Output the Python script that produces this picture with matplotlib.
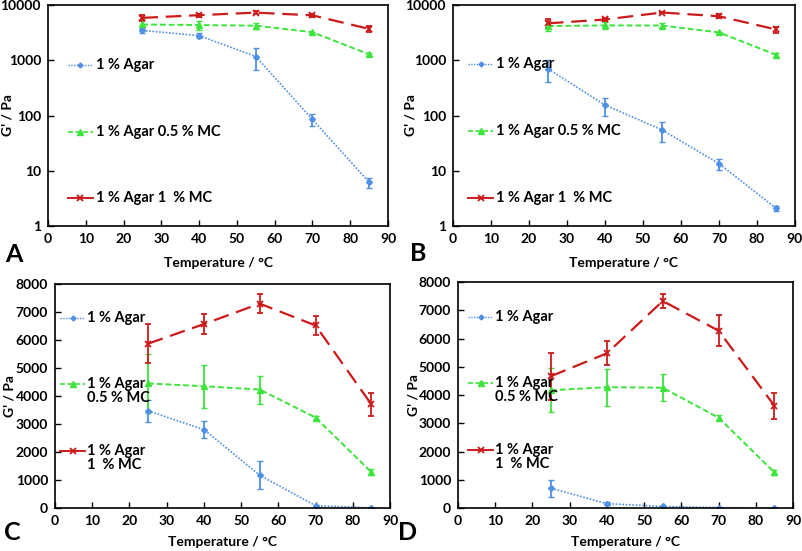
import matplotlib
matplotlib.use("Agg")
import matplotlib.pyplot as plt

plt.rcParams['font.family'] = ['Lato', 'DejaVu Sans']
plt.rcParams['font.weight'] = 'bold'

# temperatures (°C)
temps = [25, 40, 55, 70, 85]

# series labels
labels_wide = ['1 % Agar', '1 % Agar 0.5 % MC', '1 % Agar 1  % MC']
labels_two = [('1 % Agar', None), ('1 % Agar', '0.5 % MC'), ('1 % Agar', '1  % MC')]

# set 1 (panels A and C)
agar_1 = [3470, 2800, 1170, 85, 6.2]
agar_1_err = [400, 300, 500, 20, 1.3]
mc05_1 = [4450, 4350, 4230, 3230, 1280]
mc05_1_err = [1050, 770, 500, 50, 100]
mc1_1 = [5870, 6570, 7300, 6520, 3700]
mc1_1_err = [700, 370, 350, 350, 420]

# set 2 (panels B and D)
agar_2 = [700, 155, 55, 13.5, 2.1]
agar_2_err = [300, 55, 22, 3, 0.2]
mc05_2 = [4170, 4280, 4260, 3200, 1260]
mc05_2_err = [780, 660, 480, 100, 100]
mc1_2 = [4670, 5480, 7330, 6280, 3620]
mc1_2_err = [830, 430, 250, 560, 450]

log_ticks = [1, 10, 100, 1000, 10000]
lin_ticks = list(range(0, 8001, 1000))
x_ticks = list(range(0, 91, 10))

styles = [
    dict(color='#4F8FE6', ls=(0, (1, 1)), leg_ls=(0, (1, 1)), marker='D', ms=3, lw=1.2),
    dict(color='#3CE43C', ls=(0, (3, 1.5)), leg_ls=(0, (3, 1.5)), marker='^', ms=5, lw=1.4),
    dict(color='#CC1A1A', ls=(0, (7, 3.5)), leg_ls='-', marker='x', ms=5, lw=1.6, mew=1.3),
]

fig = plt.figure(figsize=(8.03, 5.51), dpi=100)


def draw_panel(rect, series, errs, log, letter, leg_x, leg_y, two_line, ylab_x, xlab_y, letter_xy):
    ax = fig.add_axes(rect)
    for vals, err, st in zip(series, errs, styles):
        ax.errorbar(temps, vals, yerr=err, color=st['color'], ls=st['ls'], lw=st['lw'],
                    marker=st['marker'], ms=st['ms'], mew=st.get('mew', 1),
                    elinewidth=1.3, capsize=2.5, capthick=1.2)
    ax.set_xlim(0, 90)
    ax.set_xticks(x_ticks)
    if log:
        ax.set_yscale('log')
        ax.set_ylim(1, 10000)
        ax.set_yticks(log_ticks)
        ax.set_yticklabels([str(t) for t in log_ticks])
        ax.minorticks_off()
    else:
        ax.set_ylim(0, 8000)
        ax.set_yticks(lin_ticks)
    ax.tick_params(direction='in', length=4, width=1, labelsize=10, pad=5)
    for s in ax.spines.values():
        s.set_linewidth(1.2)
    # axis titles placed by their centres
    ax.text(0.5, xlab_y, 'Temperature / °C', transform=ax.transAxes, ha='center',
            va='center', fontsize=10, fontweight='bold')
    ax.text(ylab_x, 0.5, "G' / Pa", transform=ax.transAxes, ha='center', va='center',
            rotation=90, fontsize=10, fontweight='bold')

    # hand-placed legend entries
    for i, st in enumerate(styles):
        y = leg_y[i]
        ax.plot([leg_x[0], leg_x[1]], [y, y], transform=ax.transAxes, color=st['color'],
                ls=st['leg_ls'], lw=st['lw'] - 0.2, clip_on=False)
        ax.plot([(leg_x[0] + leg_x[1]) / 2], [y], transform=ax.transAxes, color=st['color'],
                marker=st['marker'], ms=st['ms'] - 0.5, mew=st.get('mew', 1), clip_on=False)
        if two_line:
            l1, l2 = labels_two[i]
            ax.text(leg_x[2], y, l1, transform=ax.transAxes, va='center', ha='left',
                    fontsize=10.5, fontweight='bold')
            if l2:
                ax.text(leg_x[2], y - 0.063, l2, transform=ax.transAxes, va='center',
                        ha='left', fontsize=10.5, fontweight='bold')
        else:
            ax.text(leg_x[2], y, labels_wide[i], transform=ax.transAxes, va='center',
                    ha='left', fontsize=10.5, fontweight='bold')

    fig.text(letter_xy[0], letter_xy[1], letter, fontsize=18, fontweight='bold',
             ha='center', va='center')
    return ax


draw_panel([0.0598, 0.5898, 0.4234, 0.401], [agar_1, mc05_1, mc1_1],
           [agar_1_err, mc05_1_err, mc1_1_err], True, 'A',
           (0.059, 0.132, 0.141), (0.729, 0.425, 0.127), False, -0.118, -0.167,
           (14 / 803, 1 - 255 / 551))
draw_panel([0.5641, 0.5898, 0.4259, 0.401], [agar_2, mc05_2, mc1_2],
           [agar_2_err, mc05_2_err, mc1_2_err], True, 'B',
           (0.044, 0.117, 0.126), (0.733, 0.43, 0.127), False, -0.123, -0.167,
           (418 / 803, 1 - 253 / 551))
draw_panel([0.0685, 0.078, 0.4172, 0.4065], [agar_1, mc05_1, mc1_1],
           [agar_1_err, mc05_1_err, mc1_1_err], False, 'C',
           (0.015, 0.09, 0.095), (0.848, 0.554, 0.254), True, -0.137, -0.152,
           (12 / 803, 1 - 533 / 551))
draw_panel([0.5704, 0.078, 0.4172, 0.410], [agar_2, mc05_2, mc1_2],
           [agar_2_err, mc05_2_err, mc1_2_err], False, 'D',
           (0.03, 0.105, 0.11), (0.845, 0.553, 0.257), True, -0.134, -0.152,
           (408 / 803, 1 - 533 / 551))

fig.savefig('out.png', dpi=100)
